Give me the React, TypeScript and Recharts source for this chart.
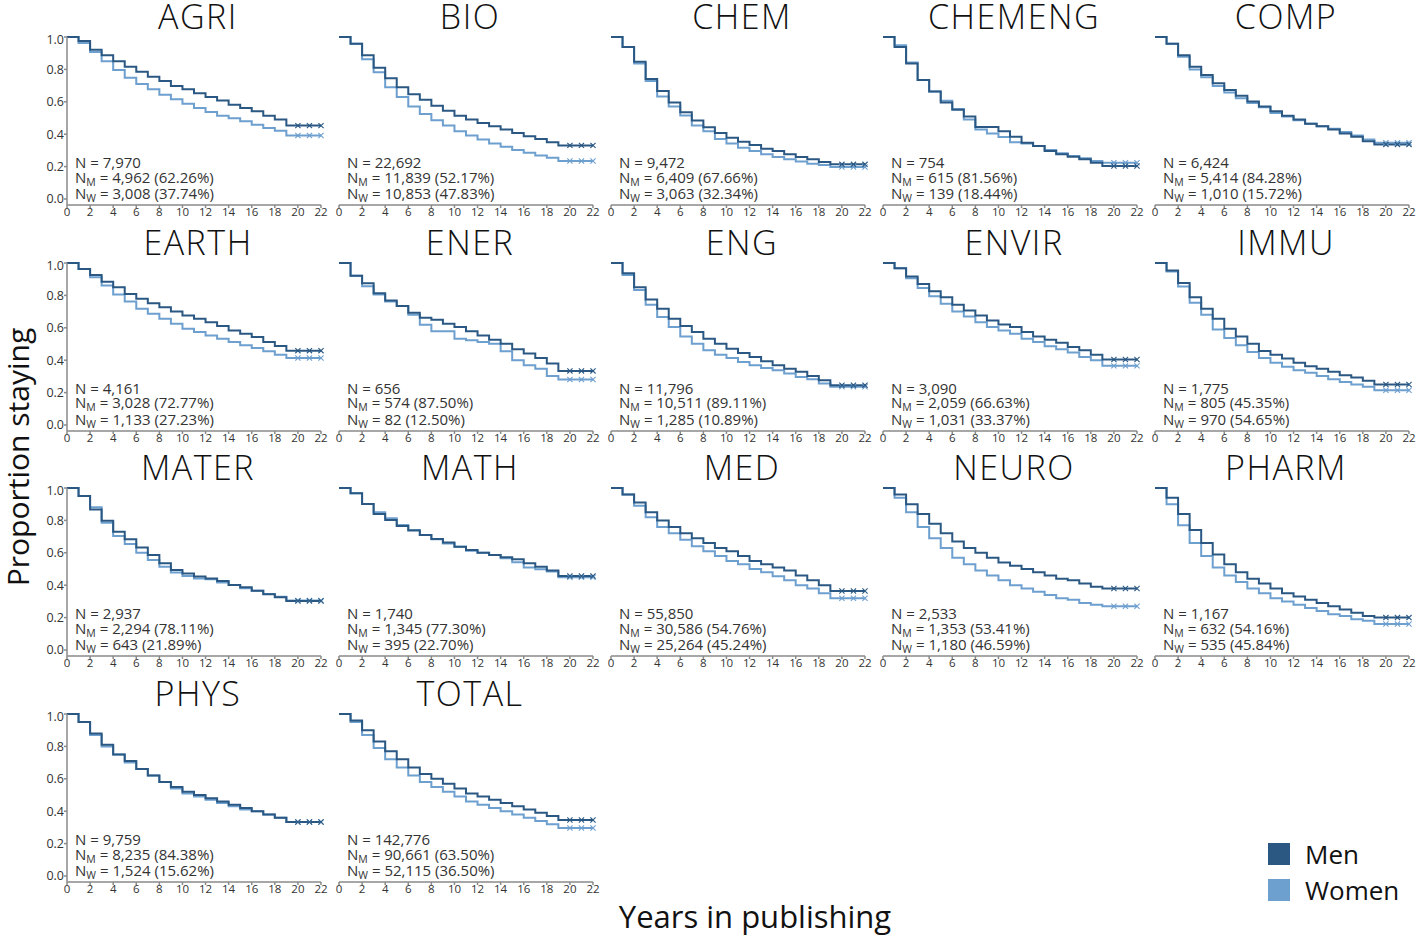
import React from "react";
import { LineChart, Line, XAxis, YAxis } from "recharts";

// years 0..22 — values are the KM level holding from that year to the next
const years = [0, 1, 2, 3, 4, 5, 6, 7, 8, 9, 10, 11, 12, 13, 14, 15, 16, 17, 18, 19, 20, 21, 22];
const xTicks = [0, 2, 4, 6, 8, 10, 12, 14, 16, 18, 20, 22];
const yTicks = [0, 0.2, 0.4, 0.6, 0.8, 1.0];
const censorYears = [20, 21, 22];

const fields = ["AGRI", "BIO", "CHEM", "CHEMENG", "COMP", "EARTH", "ENER", "ENG", "ENVIR", "IMMU", "MATER", "MATH", "MED", "NEURO", "PHARM", "PHYS", "TOTAL"];

const totalN = ["7,970", "22,692", "9,472", "754", "6,424", "4,161", "656", "11,796", "3,090", "1,775", "2,937", "1,740", "55,850", "2,533", "1,167", "9,759", "142,776"];
const menN = ["4,962 (62.26%)", "11,839 (52.17%)", "6,409 (67.66%)", "615 (81.56%)", "5,414 (84.28%)", "3,028 (72.77%)", "574 (87.50%)", "10,511 (89.11%)", "2,059 (66.63%)", "805 (45.35%)", "2,294 (78.11%)", "1,345 (77.30%)", "30,586 (54.76%)", "1,353 (53.41%)", "632 (54.16%)", "8,235 (84.38%)", "90,661 (63.50%)"];
const womenN = ["3,008 (37.74%)", "10,853 (47.83%)", "3,063 (32.34%)", "139 (18.44%)", "1,010 (15.72%)", "1,133 (27.23%)", "82 (12.50%)", "1,285 (10.89%)", "1,031 (33.37%)", "970 (54.65%)", "643 (21.89%)", "395 (22.70%)", "25,264 (45.24%)", "1,180 (46.59%)", "535 (45.84%)", "1,524 (15.62%)", "52,115 (36.50%)"];

const agriMen = [1, 0.976, 0.922, 0.888, 0.851, 0.816, 0.786, 0.755, 0.729, 0.698, 0.678, 0.653, 0.629, 0.608, 0.582, 0.561, 0.541, 0.514, 0.49, 0.453, 0.453, 0.453, 0.453];
const agriWomen = [1, 0.963, 0.908, 0.851, 0.796, 0.749, 0.71, 0.678, 0.643, 0.616, 0.588, 0.561, 0.537, 0.514, 0.498, 0.48, 0.459, 0.439, 0.422, 0.392, 0.392, 0.392, 0.392];
const bioMen = [1, 0.959, 0.888, 0.81, 0.745, 0.69, 0.647, 0.612, 0.576, 0.545, 0.514, 0.49, 0.469, 0.449, 0.429, 0.408, 0.388, 0.371, 0.351, 0.331, 0.331, 0.331, 0.331];
const bioWomen = [1, 0.959, 0.863, 0.782, 0.69, 0.629, 0.571, 0.524, 0.486, 0.453, 0.418, 0.392, 0.367, 0.343, 0.322, 0.302, 0.286, 0.269, 0.255, 0.235, 0.235, 0.235, 0.235];
const chemMen = [1, 0.939, 0.847, 0.741, 0.667, 0.596, 0.535, 0.484, 0.443, 0.408, 0.378, 0.353, 0.333, 0.31, 0.296, 0.276, 0.259, 0.245, 0.229, 0.214, 0.214, 0.214, 0.214];
const chemWomen = [1, 0.939, 0.837, 0.729, 0.633, 0.571, 0.516, 0.453, 0.418, 0.371, 0.343, 0.316, 0.296, 0.276, 0.259, 0.245, 0.231, 0.218, 0.21, 0.198, 0.198, 0.198, 0.198];
const chemengMen = [1, 0.939, 0.837, 0.735, 0.663, 0.596, 0.551, 0.51, 0.445, 0.445, 0.418, 0.384, 0.347, 0.327, 0.296, 0.276, 0.261, 0.245, 0.224, 0.204, 0.204, 0.204, 0.204];
const chemengWomen = [1, 0.949, 0.843, 0.735, 0.663, 0.606, 0.555, 0.49, 0.429, 0.404, 0.382, 0.351, 0.343, 0.327, 0.302, 0.282, 0.265, 0.251, 0.235, 0.224, 0.224, 0.224, 0.224];
const compMen = [1, 0.959, 0.888, 0.816, 0.765, 0.714, 0.673, 0.637, 0.602, 0.571, 0.541, 0.514, 0.49, 0.465, 0.449, 0.429, 0.404, 0.384, 0.357, 0.337, 0.337, 0.337, 0.337];
const compWomen = [1, 0.959, 0.878, 0.8, 0.751, 0.698, 0.657, 0.622, 0.592, 0.567, 0.531, 0.51, 0.486, 0.465, 0.449, 0.433, 0.414, 0.392, 0.367, 0.347, 0.347, 0.347, 0.347];
const earthMen = [1, 0.963, 0.926, 0.885, 0.85, 0.809, 0.779, 0.752, 0.727, 0.701, 0.676, 0.656, 0.635, 0.611, 0.584, 0.564, 0.543, 0.512, 0.488, 0.459, 0.459, 0.459, 0.459];
const earthWomen = [1, 0.963, 0.912, 0.861, 0.805, 0.762, 0.717, 0.686, 0.656, 0.625, 0.594, 0.574, 0.553, 0.533, 0.512, 0.492, 0.475, 0.455, 0.434, 0.414, 0.414, 0.414, 0.414];
const enerMen = [1, 0.922, 0.875, 0.814, 0.768, 0.734, 0.693, 0.662, 0.65, 0.625, 0.605, 0.578, 0.553, 0.527, 0.502, 0.467, 0.441, 0.414, 0.379, 0.334, 0.334, 0.334, 0.334];
const enerWomen = [1, 0.922, 0.857, 0.805, 0.762, 0.734, 0.68, 0.619, 0.578, 0.578, 0.533, 0.523, 0.512, 0.502, 0.455, 0.4, 0.369, 0.348, 0.303, 0.281, 0.281, 0.281, 0.281];
const engMen = [1, 0.936, 0.85, 0.775, 0.717, 0.656, 0.611, 0.574, 0.533, 0.502, 0.471, 0.445, 0.42, 0.393, 0.369, 0.348, 0.328, 0.303, 0.277, 0.246, 0.246, 0.246, 0.246];
const engWomen = [1, 0.926, 0.834, 0.742, 0.666, 0.605, 0.547, 0.502, 0.461, 0.434, 0.414, 0.389, 0.369, 0.352, 0.338, 0.318, 0.297, 0.283, 0.256, 0.236, 0.236, 0.236, 0.236];
const envirMen = [1, 0.967, 0.916, 0.871, 0.826, 0.789, 0.742, 0.707, 0.676, 0.645, 0.621, 0.605, 0.574, 0.547, 0.527, 0.508, 0.482, 0.461, 0.434, 0.404, 0.404, 0.404, 0.404];
const envirWomen = [1, 0.967, 0.906, 0.846, 0.795, 0.748, 0.701, 0.67, 0.635, 0.605, 0.584, 0.564, 0.533, 0.512, 0.486, 0.467, 0.447, 0.42, 0.4, 0.365, 0.365, 0.365, 0.365];
const immuMen = [1, 0.953, 0.877, 0.789, 0.717, 0.656, 0.594, 0.547, 0.502, 0.457, 0.434, 0.41, 0.385, 0.363, 0.348, 0.328, 0.307, 0.293, 0.273, 0.25, 0.25, 0.25, 0.25];
const immuWomen = [1, 0.947, 0.855, 0.754, 0.68, 0.59, 0.537, 0.492, 0.451, 0.414, 0.385, 0.359, 0.338, 0.322, 0.303, 0.283, 0.266, 0.25, 0.236, 0.215, 0.215, 0.215, 0.215];
const materMen = [1, 0.951, 0.868, 0.798, 0.73, 0.683, 0.632, 0.586, 0.535, 0.494, 0.473, 0.453, 0.442, 0.426, 0.401, 0.387, 0.366, 0.344, 0.325, 0.302, 0.302, 0.302, 0.302];
const materWomen = [1, 0.951, 0.881, 0.786, 0.704, 0.654, 0.601, 0.556, 0.514, 0.479, 0.457, 0.442, 0.436, 0.416, 0.401, 0.381, 0.366, 0.346, 0.329, 0.305, 0.305, 0.305, 0.305];
const mathMen = [1, 0.967, 0.901, 0.84, 0.802, 0.765, 0.737, 0.71, 0.685, 0.663, 0.638, 0.617, 0.601, 0.586, 0.572, 0.56, 0.535, 0.514, 0.49, 0.457, 0.457, 0.457, 0.457];
const mathWomen = [1, 0.967, 0.901, 0.85, 0.813, 0.772, 0.741, 0.71, 0.683, 0.658, 0.638, 0.613, 0.601, 0.586, 0.566, 0.541, 0.51, 0.498, 0.484, 0.449, 0.449, 0.449, 0.449];
const medMen = [1, 0.96, 0.91, 0.85, 0.8, 0.76, 0.72, 0.69, 0.66, 0.63, 0.61, 0.58, 0.55, 0.53, 0.51, 0.49, 0.46, 0.43, 0.4, 0.364, 0.364, 0.364, 0.364];
const medWomen = [1, 0.96, 0.89, 0.82, 0.76, 0.72, 0.68, 0.64, 0.61, 0.58, 0.55, 0.53, 0.5, 0.48, 0.455, 0.43, 0.4, 0.38, 0.35, 0.32, 0.32, 0.32, 0.32];
const neuroMen = [1, 0.96, 0.9, 0.84, 0.78, 0.72, 0.67, 0.63, 0.6, 0.57, 0.54, 0.52, 0.5, 0.48, 0.46, 0.44, 0.43, 0.41, 0.39, 0.38, 0.38, 0.38, 0.38];
const neuroWomen = [1, 0.94, 0.85, 0.76, 0.69, 0.63, 0.57, 0.53, 0.49, 0.46, 0.43, 0.4, 0.38, 0.36, 0.34, 0.32, 0.31, 0.29, 0.28, 0.27, 0.27, 0.27, 0.27];
const pharmMen = [1, 0.94, 0.84, 0.74, 0.66, 0.59, 0.53, 0.48, 0.44, 0.41, 0.38, 0.35, 0.33, 0.31, 0.29, 0.27, 0.25, 0.23, 0.21, 0.2, 0.2, 0.2, 0.2];
const pharmWomen = [1, 0.9, 0.77, 0.66, 0.58, 0.51, 0.46, 0.42, 0.38, 0.35, 0.32, 0.3, 0.28, 0.26, 0.24, 0.22, 0.21, 0.19, 0.18, 0.16, 0.16, 0.16, 0.16];
const physMen = [1, 0.95, 0.88, 0.81, 0.75, 0.71, 0.66, 0.62, 0.58, 0.55, 0.52, 0.5, 0.48, 0.46, 0.44, 0.42, 0.4, 0.38, 0.36, 0.333, 0.333, 0.333, 0.333];
const physWomen = [1, 0.95, 0.87, 0.8, 0.75, 0.7, 0.66, 0.62, 0.58, 0.54, 0.51, 0.49, 0.47, 0.45, 0.43, 0.41, 0.4, 0.38, 0.36, 0.333, 0.333, 0.333, 0.333];
const totalMen = [1, 0.96, 0.9, 0.83, 0.77, 0.72, 0.67, 0.63, 0.6, 0.57, 0.54, 0.51, 0.49, 0.47, 0.45, 0.43, 0.41, 0.39, 0.37, 0.346, 0.346, 0.346, 0.346];
const totalWomen = [1, 0.95, 0.87, 0.79, 0.72, 0.67, 0.62, 0.58, 0.55, 0.52, 0.49, 0.46, 0.44, 0.42, 0.4, 0.38, 0.36, 0.34, 0.32, 0.296, 0.296, 0.296, 0.296];

const menSeries = [agriMen, bioMen, chemMen, chemengMen, compMen, earthMen, enerMen, engMen, envirMen, immuMen, materMen, mathMen, medMen, neuroMen, pharmMen, physMen, totalMen];
const womenSeries = [agriWomen, bioWomen, chemWomen, chemengWomen, compWomen, earthWomen, enerWomen, engWomen, envirWomen, immuWomen, materWomen, mathWomen, medWomen, neuroWomen, pharmWomen, physWomen, totalWomen];

const MEN = "#2a5883";
const WOMEN = "#6d9fcf";
const AXIS = "#8a8a8a";
const FONT = "'Open Sans', 'DejaVu Sans', sans-serif";

const censorDot = (color: string) => (props: any) => {
  const { cx, cy, payload, index } = props;
  if (!censorYears.includes(payload.year)) return <g key={index} />;
  const s = 2.6;
  return (
    <path
      key={index}
      d={`M${cx - s},${cy - s}L${cx + s},${cy + s}M${cx + s},${cy - s}L${cx - s},${cy + s}`}
      stroke={color}
      strokeWidth={1.1}
      fill="none"
    />
  );
};

const sub = { fontSize: 10.5, position: "relative" as const, top: 3 };

function Panel({ idx }: { idx: number }) {
  const r = Math.floor(idx / 5);
  const c = idx % 5;
  const px0 = 67 + 272 * c;
  const py1 = 37 + 225.7 * r;
  const first = c === 0;
  const rows = years.map((y, i) => ({ year: y, men: menSeries[idx][i], women: womenSeries[idx][i] }));

  return (
    <>
      <div style={{ position: "absolute", left: px0 - 40, top: py1 - 5 }}>
        <LineChart width={304} height={198} data={rows} margin={{ top: 5, right: 10, bottom: 0, left: first ? 0 : 40 }}>
          <XAxis
            dataKey="year"
            type="number"
            domain={[0, 22]}
            ticks={xTicks}
            interval={0}
            height={25}
            tickSize={3}
            tickMargin={0}
            stroke={AXIS}
            strokeWidth={1.5}
            tick={{ fill: "#333", fontSize: 11.5 }}
          />
          <YAxis
            hide={!first}
            width={40}
            type="number"
            domain={[-0.037, 1]}
            ticks={yTicks}
            tickFormatter={(v) => v.toFixed(1)}
            tickSize={3}
            tickMargin={0}
            stroke={AXIS}
            strokeWidth={1.5}
            tick={{ fill: "#333", fontSize: 12.5 }}
          />
          <Line
            dataKey="women"
            type="stepAfter"
            stroke={WOMEN}
            strokeWidth={2}
            dot={censorDot(WOMEN)}
            activeDot={false}
            isAnimationActive={false}
          />
          <Line
            dataKey="men"
            type="stepAfter"
            stroke={MEN}
            strokeWidth={2}
            dot={censorDot(MEN)}
            activeDot={false}
            isAnimationActive={false}
          />
        </LineChart>
      </div>
      <div
        style={{
          position: "absolute",
          left: px0 + 4,
          width: 254,
          top: py1 - 37,
          textAlign: "center",
          fontSize: 34,
          fontWeight: 300,
          letterSpacing: 1.5,
          lineHeight: "32px",
          color: "#111",
        }}
      >
        {fields[idx]}
      </div>
      <div
        style={{
          position: "absolute",
          left: px0 + 8,
          top: py1 + 118,
          fontSize: 15,
          lineHeight: "14.5px",
          color: "#333",
          whiteSpace: "nowrap",
        }}
      >
        <div>N = {totalN[idx]}</div>
        <div>
          N<span style={sub}>M</span> = {menN[idx]}
        </div>
        <div>
          N<span style={sub}>W</span> = {womenN[idx]}
        </div>
      </div>
    </>
  );
}

export default function App() {
  return (
    <div
      style={{
        position: "absolute",
        left: 0,
        top: 0,
        width: 1416,
        height: 937,
        background: "#fff",
        fontFamily: FONT,
        overflow: "hidden",
      }}
    >
      {fields.map((f, i) => (
        <Panel key={f} idx={i} />
      ))}
      <div
        style={{
          position: "absolute",
          left: 17,
          top: 457,
          transform: "translate(-50%, -50%) rotate(-90deg)",
          fontSize: 30,
          whiteSpace: "nowrap",
          color: "#111",
        }}
      >
        Proportion staying
      </div>
      <div
        style={{
          position: "absolute",
          left: 755,
          top: 916,
          transform: "translate(-50%, -50%)",
          fontSize: 31,
          whiteSpace: "nowrap",
          color: "#111",
        }}
      >
        Years in publishing
      </div>
      <div style={{ position: "absolute", left: 1268, top: 843, width: 22, height: 22, background: MEN }} />
      <div style={{ position: "absolute", left: 1268, top: 879, width: 22, height: 22, background: WOMEN }} />
      <div style={{ position: "absolute", left: 1305, top: 854, transform: "translateY(-50%)", fontSize: 26, color: "#111" }}>
        Men
      </div>
      <div style={{ position: "absolute", left: 1305, top: 890, transform: "translateY(-50%)", fontSize: 26, color: "#111" }}>
        Women
      </div>
    </div>
  );
}
